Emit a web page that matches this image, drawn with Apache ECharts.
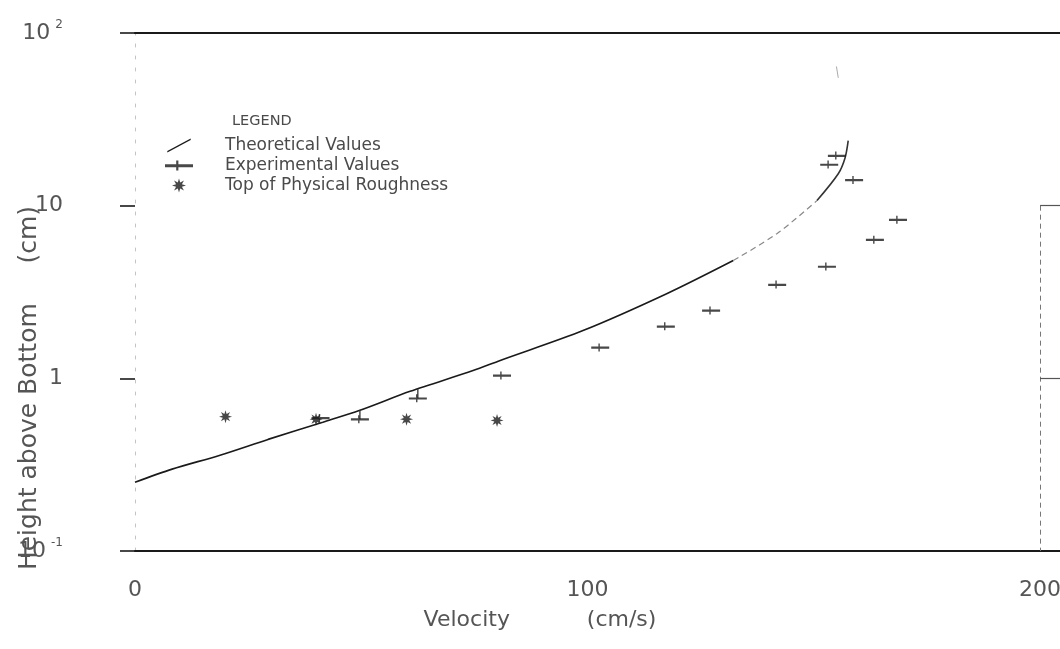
<!DOCTYPE html>
<html>
<head>
<meta charset="utf-8">
<script src="https://cdn.jsdelivr.net/npm/echarts@6/dist/echarts.min.js"></script>
<style>
  html, body { margin: 0; padding: 0; background: #fff; }
  #chart { width: 1060px; height: 649px; }
</style>
</head>
<body>
<div id="chart"></div>
<script>
// Velocity profile: theoretical curve, measured points, roughness tops
const theoryV      = [0, 8.2, 18.8, 29.4, 41.5, 49.7, 60.8, 74.7, 80.7, 99.0, 117.6, 132.2];
const theoryH      = [0.25, 0.298, 0.359, 0.443, 0.557, 0.653, 0.841, 1.11, 1.27, 1.89, 3.10, 4.81];
const theoryFaintV = [132.2, 141.9, 150.7];
const theoryFaintH = [4.81, 6.9, 10.7];
const theoryTopV   = [150.7, 155.4, 156.9, 157.6];
const theoryTopH   = [10.7, 15.3, 18.9, 23.8];
const theoryTailV  = [155.4, 155.0];
const theoryTailH  = [55, 64];

const expV = [41, 49.7, 62.5, 81.1, 102.8, 117.3, 127.3, 141.9, 152.9, 163.5, 168.6, 158.9, 153.4, 155.1];
const expH = [0.59, 0.58, 0.766, 1.04, 1.51, 2.0, 2.47, 3.49, 4.44, 6.35, 8.3, 14.1, 17.3, 19.5];

// vertical bars joining two measurements to the curve: [velocity, upper, lower]
const expBars = [[49.7, 0.653, 0.58], [62.5, 0.87, 0.766]];

const roughV = [20, 40, 60, 80];
const roughH = [0.6, 0.58, 0.58, 0.57];

const xTicks = [0, 100, 200];
const yTickValues = [0.1, 1, 10, 100];
const yTickLabels = ['10{s|-1}', '1', '10', '10{s|2}'];

const pairs = (xs, ys) => xs.map((x, i) => [x, ys[i]]);

// eight-pointed burst used for the roughness marks
function burstPath() {
  let d = '';
  const n = 16;
  for (let i = 0; i < n; i++) {
    const a = (Math.PI * 2 * i) / n - Math.PI / 2;
    const r = i % 2 === 0 ? 10 : 4.5;
    const x = (10 + r * Math.cos(a)).toFixed(2);
    const y = (10 + r * Math.sin(a)).toFixed(2);
    d += (i === 0 ? 'M' : 'L') + x + ',' + y + ' ';
  }
  return 'path://' + d + 'Z';
}
const burst = burstPath();
const dashMark = 'path://M0,4 L18,4 L18,5.8 L0,5.8 Z M7.2,1.5 L8.6,1.5 L8.6,8 L7.2,8 Z';
const slashIcon = 'path://M0,14 L26,0 L26,1.6 L0,15.6 Z';

const ink = '#1a1a1a';
const textInk = '#4a4a4a';
const font = 'DejaVu Sans';

const series = [
  {
    name: 'Theoretical Values', type: 'line', data: pairs(theoryV, theoryH),
    smooth: 0.3, showSymbol: false, lineStyle: { color: ink, width: 1.6 }, z: 2
  },
  {
    name: 'Theoretical Values', type: 'line', data: pairs(theoryFaintV, theoryFaintH),
    smooth: 0.3, showSymbol: false, lineStyle: { color: '#888', width: 1.2, type: [6, 4] }, z: 2
  },
  {
    name: 'Theoretical Values', type: 'line', data: pairs(theoryTopV, theoryTopH),
    smooth: 0.3, showSymbol: false, lineStyle: { color: '#333', width: 1.6 }, z: 2
  },
  {
    name: 'Theoretical Values', type: 'line', data: pairs(theoryTailV, theoryTailH),
    showSymbol: false, lineStyle: { color: '#aaa', width: 1 }, z: 2
  },
  {
    name: 'Experimental Values', type: 'scatter', data: pairs(expV, expH),
    symbol: dashMark, symbolSize: [18, 8], itemStyle: { color: ink }, z: 3
  },
  {
    name: 'Top of Physical Roughness', type: 'scatter', data: pairs(roughV, roughH),
    symbol: burst, symbolSize: 13, itemStyle: { color: ink }, z: 3
  }
];
expBars.forEach(b => {
  series.push({
    type: 'line', data: [[b[0], b[1]], [b[0], b[2]]], showSymbol: false,
    lineStyle: { color: '#333', width: 1.3 }, silent: true, z: 2
  });
});

// right-hand frame: dashed line at the 200 limit and short outward ticks
series.push({
  type: 'line', data: [], silent: true,
  markLine: {
    silent: true, symbol: 'none', label: { show: false },
    data: [
      [{ coord: [200, 10], lineStyle: { type: [5, 4], color: '#777', width: 1 } }, { coord: [200, 0.1] }],
      [{ coord: [200, 10] }, { coord: [204.4, 10] }],
      [{ coord: [200, 1] }, { coord: [204.4, 1] }]
    ],
    lineStyle: { color: '#555', width: 1.2, type: 'solid' }
  }
});

const chart = echarts.init(document.getElementById('chart'), null, { renderer: 'canvas' });
chart.setOption({
  backgroundColor: '#fff',
  animation: false,
  grid: { left: 135, right: 0, top: 33, bottom: 98, containLabel: false, outerBoundsMode: 'none' },
  legend: {
    orient: 'vertical', left: 160, top: 132, itemGap: 3,
    itemWidth: 28, itemHeight: 14,
    textStyle: { fontFamily: font, fontSize: 17, color: textInk, padding: [0, 0, 0, 27] },
    data: [
      { name: 'Theoretical Values', icon: slashIcon, itemStyle: { color: ink } },
      { name: 'Experimental Values', icon: dashMark, itemStyle: { color: ink } },
      { name: 'Top of Physical Roughness', icon: burst, itemStyle: { color: ink } }
    ]
  },
  graphic: [
    { type: 'text', left: 232, top: 114,
      style: { text: 'LEGEND', fontFamily: font, fontSize: 14.5, fill: textInk } }
  ],
  xAxis: [
    {
      type: 'value', min: 0, max: 204.4, interval: 100, position: 'bottom',
      axisLine: { show: true, lineStyle: { color: ink, width: 2 } },
      axisTick: { show: false },
      splitLine: { show: false },
      axisLabel: {
        margin: 28, fontFamily: font, fontSize: 22, color: '#555', showMaxLabel: false,
        formatter: v => (xTicks.indexOf(v) >= 0 ? String(v) : '')
      },
      name: 'Velocity           (cm/s)', nameLocation: 'middle', nameGap: 58, nameMoveOverlap: false,
      nameTextStyle: { fontFamily: font, fontSize: 22, color: '#555', padding: [0, 115, 0, 0] }
    },
    {
      type: 'value', min: 0, max: 204.4, position: 'top',
      axisLine: { show: true, lineStyle: { color: ink, width: 2 } },
      axisTick: { show: false }, axisLabel: { show: false }, splitLine: { show: false }
    }
  ],
  yAxis: {
    type: 'log', logBase: 10, min: 0.1, max: 100,
    axisLine: { show: true, lineStyle: { color: '#c4c4c4', width: 1, type: [3, 9] } },
    axisTick: { show: true, length: 15, lineStyle: { color: ink, width: 1.6 } },
    splitLine: { show: false },
    axisLabel: {
      margin: 72, fontFamily: font, fontSize: 22, color: '#555',
      formatter: v => {
        const i = yTickValues.findIndex(t => Math.abs(t - v) / t < 1e-6);
        return i >= 0 ? yTickLabels[i] : '';
      },
      rich: { s: { fontFamily: font, fontSize: 12, color: '#555', verticalAlign: 'top', padding: [0, 0, 16, 5] } }
    },
    name: 'Height above Bottom     (cm)', nameLocation: 'middle', nameGap: 93, nameMoveOverlap: false,
    nameTextStyle: { fontFamily: font, fontSize: 25, color: '#555', padding: [0, 192, 0, 0] }
  },
  series: series
});
</script>
</body>
</html>
